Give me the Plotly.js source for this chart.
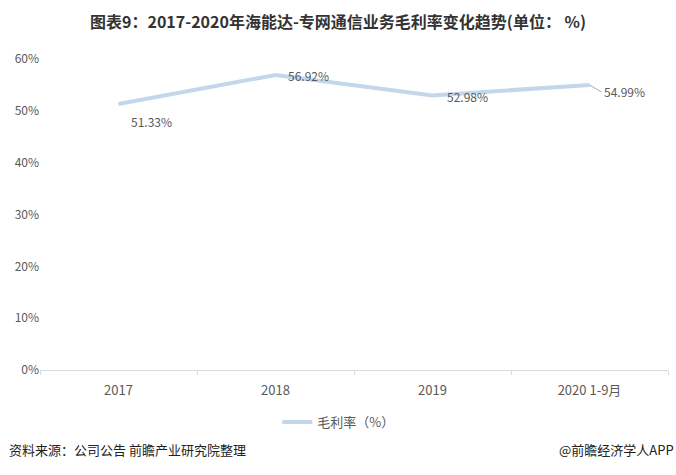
<!DOCTYPE html>
<html>
<head>
<meta charset="utf-8">
<script src="https://cdn.plot.ly/plotly-3.0.1.min.js"></script>
<style>html,body{margin:0;padding:0;background:#fff;}#chart{width:676px;height:475px;}</style>
</head>
<body>
<div id="chart"></div>
<script>
const categories = ['2017', '2018', '2019', '2020 1-9月'];
const grossMargin = [51.33, 56.92, 52.98, 54.99];
const labelTexts = ['51.33%', '56.92%', '52.98%', '54.99%'];
const yTickVals = [0, 10, 20, 30, 40, 50, 60];
const yTickText = ['0%', '10%', '20%', '30%', '40%', '50%', '60%'];

const FONT = '"Noto Sans CJK SC", "Liberation Sans", Arial, sans-serif';
const TXT = '#595959';

const xIdx = categories.map((c, i) => i);

const labelStyle = [
  {xshift: 33, yshift: -18},
  {xshift: 33, yshift: -1},
  {xshift: 35, yshift: -1},
  null
];

const annotations = [];
grossMargin.forEach((v, i) => {
  const st = labelStyle[i];
  if (st) {
    annotations.push({x: xIdx[i], y: v, xref: 'x', yref: 'y', text: labelTexts[i],
      showarrow: false, xshift: st.xshift, yshift: st.yshift,
      font: {family: FONT, size: 12, color: TXT}});
  } else {
    annotations.push({x: xIdx[i], y: v, xref: 'x', yref: 'y', text: labelTexts[i],
      showarrow: true, arrowhead: 0, arrowwidth: 1, arrowcolor: '#a6a6a6',
      ax: 12, ay: 7, xanchor: 'left', standoff: 0,
      font: {family: FONT, size: 12, color: TXT}});
  }
});
annotations.push({xref: 'paper', yref: 'paper', x: -0.052, y: -0.255, xanchor: 'left', yanchor: 'middle',
  text: '资料来源：公司公告 前瞻产业研究院整理', showarrow: false,
  font: {family: FONT, size: 13, color: '#222'}});
annotations.push({xref: 'paper', yref: 'paper', x: 1.012, y: -0.255, xanchor: 'right', yanchor: 'middle',
  text: '@前瞻经济学人APP', showarrow: false,
  font: {family: FONT, size: 13, color: '#222'}});

const trace = {
  x: xIdx, y: grossMargin, type: 'scatter', mode: 'lines',
  name: '毛利率（%）',
  line: {color: '#c3d6ec', width: 4}
};

const layout = {
  width: 676, height: 475,
  margin: {l: 40, r: 8, t: 59, b: 105},
  paper_bgcolor: '#ffffff', plot_bgcolor: '#ffffff',
  title: {text: '<b>图表9：2017-2020年海能达-专网通信业务毛利率变化趋势(单位： %)</b>',
    x: 0.5, xanchor: 'center', xref: 'container', y: 0.953, yanchor: 'middle',
    font: {family: FONT, size: 16, color: '#333333'}},
  xaxis: {type: 'linear', range: [-0.5, 3.5], showgrid: false, zeroline: false,
    showline: true, linecolor: '#d9d9d9', linewidth: 1,
    tickvals: xIdx, ticktext: categories, ticks: '', ticklabelstandoff: 8,
    minor: {tick0: -0.5, dtick: 1, ticks: 'outside', ticklen: 4, tickcolor: '#d9d9d9', showgrid: false},
    tickfont: {family: FONT, size: 13, color: TXT}},
  yaxis: {range: [0, 60], tickvals: yTickVals, ticktext: yTickText,
    showgrid: false, zeroline: false, showline: false, ticks: '',
    tickfont: {family: FONT, size: 12, color: TXT}},
  showlegend: true,
  legend: {orientation: 'h', x: 0.475, xanchor: 'center', y: -0.167, yanchor: 'middle',
    itemwidth: 30,
    font: {family: FONT, size: 13, color: TXT}},
  annotations: annotations
};

Plotly.newPlot('chart', [trace], layout, {displayModeBar: false, staticPlot: true});
</script>
</body>
</html>
